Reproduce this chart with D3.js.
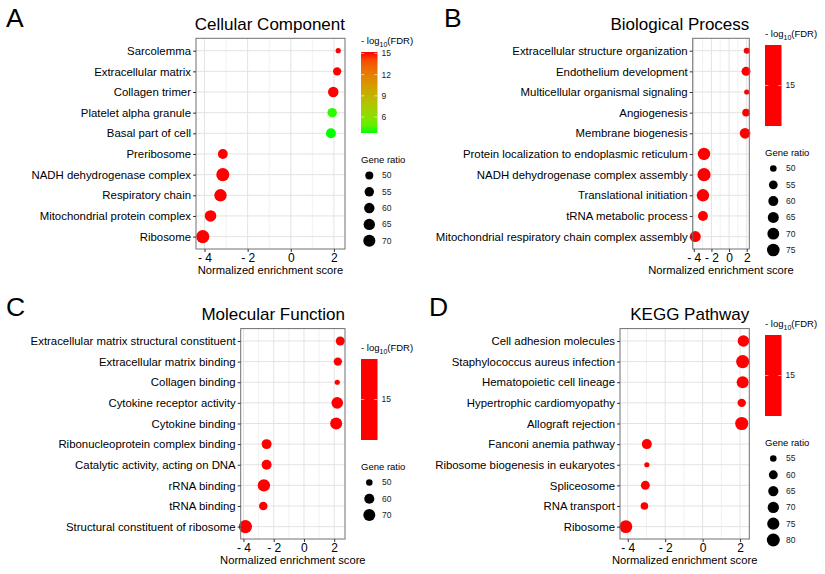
<!DOCTYPE html>
<html lang="en">
  <head>
    <meta charset="UTF-8" />
    <title>GSEA dot plots</title>
    <script src="https://d3js.org/d3.v7.min.js"></script>
    <style>
      body { margin: 0; background: #fff; }
      text { font-family: "Liberation Sans", Arial, sans-serif; }
    </style>
  </head>

  <body>
    <svg width="825" height="574"></svg>
    <script>
      // ---- data ----
      const ccTerms = ["Sarcolemma", "Extracellular matrix", "Collagen trimer", "Platelet alpha granule",
        "Basal part of cell", "Preribosome", "NADH dehydrogenase complex", "Respiratory chain",
        "Mitochondrial protein complex", "Ribosome"];
      const ccNES = [2.2, 2.15, 1.97, 1.92, 1.86, -3.15, -3.15, -3.26, -3.72, -4.08];
      const ccRatio = [46, 50.7, 60.2, 55.3, 57.1, 57, 77, 71.8, 66.2, 78];
      const ccFDR = [15.2, 15.2, 15.2, 4.0, 3.75, 15.2, 15.2, 15.2, 15.2, 15.2];
      const ccSizeBreaks = [50, 55, 60, 65, 70];
      const ccColorBreaks = [6, 9, 12, 15];

      const bpTerms = ["Extracellular structure organization", "Endothelium development",
        "Multicellular organismal signaling", "Angiogenesis", "Membrane biogenesis",
        "Protein localization to endoplasmic reticulum", "NADH dehydrogenase complex assembly",
        "Translational initiation", "tRNA metabolic process",
        "Mitochondrial respiratory chain complex assembly"];
      const bpNES = [2.0, 1.92, 2.0, 1.92, 1.81, -2.84, -2.84, -2.96, -2.96, -3.83];
      const bpRatio = [49.3, 55.9, 49, 51.7, 62.9, 73.6, 79.4, 73.6, 60, 65];
      const bpFDR = [15, 15, 15, 15, 15, 15, 15, 15, 15, 15];
      const bpSizeBreaks = [50, 55, 60, 65, 70, 75];
      const bpColorBreaks = [15];

      const mfTerms = ["Extracellular matrix structural constituent", "Extracellular matrix binding",
        "Collagen binding", "Cytokine receptor activity", "Cytokine binding",
        "Ribonucleoprotein complex binding", "Catalytic activity, acting on DNA", "rRNA binding",
        "tRNA binding", "Structural constituent of ribosome"];
      const mfNES = [2.4, 2.24, 2.2, 2.2, 2.13, -2.47, -2.47, -2.65, -2.69, -3.87];
      const mfRatio = [55.6, 53.7, 49.2, 67.7, 70, 59.5, 59.5, 72.6, 54.3, 78.1];
      const mfFDR = [15, 15, 15, 15, 15, 15, 15, 15, 15, 15];
      const mfSizeBreaks = [50, 60, 70];
      const mfColorBreaks = [15];

      const keggTerms = ["Cell adhesion molecules", "Staphylococcus aureus infection",
        "Hematopoietic cell lineage", "Hypertrophic cardiomyopathy", "Allograft rejection",
        "Fanconi anemia pathway", "Ribosome biogenesis in eukaryotes", "Spliceosome",
        "RNA transport", "Ribosome"];
      const keggNES = [2.18, 2.14, 2.14, 2.09, 2.09, -2.98, -2.98, -3.06, -3.11, -4.1];
      const keggRatio = [71.6, 81.4, 73.8, 58.6, 81, 64, 54.2, 60.3, 56.6, 78.7];
      const keggFDR = [15, 15, 15, 15, 15, 15, 15, 15, 15, 15];
      const keggSizeBreaks = [55, 60, 65, 70, 75, 80];
      const keggColorBreaks = [15];

      const xTicks = [-4, -2, 0, 2];
      const xMinor = [-3, -1, 1];

      // ---- layout ----
      const panels = [
        { letter: "A", title: "Cellular Component", terms: ccTerms, nes: ccNES, ratio: ccRatio, fdr: ccFDR,
          sizeBreaks: ccSizeBreaks, colorBreaks: ccColorBreaks,
          left: 196, right: 345, top: 38.3, bottom: 249, titleY: 30, letterX: 6, letterY: 27,
          legX: 361, barTop: 52 },
        { letter: "B", title: "Biological Process", terms: bpTerms, nes: bpNES, ratio: bpRatio, fdr: bpFDR,
          sizeBreaks: bpSizeBreaks, colorBreaks: bpColorBreaks,
          left: 692.7, right: 749.3, top: 38.3, bottom: 249, titleY: 30, letterX: 444, letterY: 27,
          legX: 765, barTop: 45 },
        { letter: "C", title: "Molecular Function", terms: mfTerms, nes: mfNES, ratio: mfRatio, fdr: mfFDR,
          sizeBreaks: mfSizeBreaks, colorBreaks: mfColorBreaks,
          left: 240.7, right: 345, top: 328.6, bottom: 539, titleY: 320, letterX: 6, letterY: 316,
          legX: 361, barTop: 359 },
        { letter: "D", title: "KEGG Pathway", terms: keggTerms, nes: keggNES, ratio: keggRatio, fdr: keggFDR,
          sizeBreaks: keggSizeBreaks, colorBreaks: keggColorBreaks,
          left: 620, right: 749.3, top: 328.6, bottom: 539, titleY: 320, letterX: 429, letterY: 316,
          legX: 765, barTop: 335 }
      ];

      const svg = d3.select("svg");
      svg.append("rect").attr("width", 825).attr("height", 574).attr("fill", "#fff");
      const defs = svg.append("defs");

      const LOW = "#00ff00", HIGH = "#ff0000";
      const R_MIN = 2.6, R_MAX = 6.6;
      const BAR_H = 81, BAR_W = 16.5;

      panels.forEach((p, pi) => {
        const g = svg.append("g");

        // scales
        const ext = d3.extent(p.nes);
        const pad = (ext[1] - ext[0]) * 0.05;
        const x = d3.scaleLinear().domain([ext[0] - pad, ext[1] + pad]).range([p.left, p.right]);
        const y = d3.scalePoint().domain(p.terms).range([p.top, p.bottom]).padding(0.6);

        const rExt = d3.extent(p.ratio);
        const rNorm = d3.scaleLinear().domain(rExt).range([0, 1]);
        const rLin = d3.scaleLinear().domain([0, 1]).range([R_MIN, R_MAX]);
        const radius = (v) => rLin(Math.sqrt(Math.max(0, rNorm(v))));

        const fExt = d3.extent(p.fdr);
        const color = fExt[0] === fExt[1]
          ? () => HIGH
          : d3.scaleLinear().domain(fExt).range([LOW, HIGH]).interpolate(d3.interpolateLab);

        // panel grid
        g.selectAll(".minor").data(xMinor).join("line")
          .attr("x1", (d) => x(d)).attr("x2", (d) => x(d))
          .attr("y1", p.top).attr("y2", p.bottom)
          .attr("stroke", "#ebebeb").attr("stroke-width", 0.7);
        g.selectAll(".major").data(xTicks).join("line")
          .attr("x1", (d) => x(d)).attr("x2", (d) => x(d))
          .attr("y1", p.top).attr("y2", p.bottom)
          .attr("stroke", "#e3e3e3").attr("stroke-width", 1);
        g.selectAll(".hgrid").data(p.terms).join("line")
          .attr("x1", p.left).attr("x2", p.right)
          .attr("y1", (d) => y(d)).attr("y2", (d) => y(d))
          .attr("stroke", "#e3e3e3").attr("stroke-width", 1);

        // points
        g.selectAll(".pt").data(p.terms).join("circle")
          .attr("cx", (d, i) => x(p.nes[i]))
          .attr("cy", (d) => y(d))
          .attr("r", (d, i) => radius(p.ratio[i]))
          .attr("fill", (d, i) => color(p.fdr[i]));

        // border
        g.append("rect")
          .attr("x", p.left).attr("y", p.top)
          .attr("width", p.right - p.left).attr("height", p.bottom - p.top)
          .attr("fill", "none").attr("stroke", "#707070").attr("stroke-width", 1);

        // axes
        const yAxis = g.append("g")
          .attr("transform", "translate(" + p.left + ",0)")
          .call(d3.axisLeft(y).tickSize(3).tickPadding(2));
        yAxis.select(".domain").remove();
        yAxis.selectAll("line").attr("stroke", "#333");
        yAxis.selectAll("text").attr("font-size", 11.4).attr("fill", "#000")
          .attr("font-family", "Liberation Sans, Arial, sans-serif");

        const xAxis = g.append("g")
          .attr("transform", "translate(0," + p.bottom + ")")
          .call(d3.axisBottom(x).tickValues(xTicks).tickSize(3).tickPadding(1)
            .tickFormat((d) => (d < 0 ? "- " + Math.abs(d) : d)));
        xAxis.select(".domain").remove();
        xAxis.selectAll("line").attr("stroke", "#333");
        xAxis.selectAll("text").attr("font-size", 12).attr("fill", "#000")
          .attr("font-family", "Liberation Sans, Arial, sans-serif");

        g.append("text")
          .attr("x", (p.left + p.right) / 2).attr("y", p.bottom + 25.3)
          .attr("text-anchor", "middle").attr("font-size", 11.2).attr("fill", "#000")
          .text("Normalized enrichment score");

        // title and letter
        g.append("text")
          .attr("x", p.right).attr("y", p.titleY)
          .attr("text-anchor", "end").attr("font-size", 17).attr("fill", "#000")
          .text(p.title);
        g.append("text")
          .attr("x", p.letterX).attr("y", p.letterY)
          .attr("font-size", 26.5).attr("fill", "#000")
          .text(p.letter);

        // colour bar legend
        const cbTitle = g.append("text")
          .attr("x", p.legX).attr("y", p.barTop - 8)
          .attr("font-size", 9.5).attr("fill", "#000");
        cbTitle.append("tspan").text("- log");
        cbTitle.append("tspan").attr("font-size", 7).attr("dy", 2.5).text("10");
        cbTitle.append("tspan").attr("dy", -2.5).text("(FDR)");

        const gradId = "grad" + pi;
        const grad = defs.append("linearGradient").attr("id", gradId)
          .attr("x1", 0).attr("y1", 1).attr("x2", 0).attr("y2", 0);
        d3.range(0, 1.0001, 0.1).forEach((t) => {
          grad.append("stop").attr("offset", t)
            .attr("stop-color", color(fExt[0] + t * (fExt[1] - fExt[0])));
        });
        g.append("rect")
          .attr("x", p.legX).attr("y", p.barTop)
          .attr("width", BAR_W).attr("height", BAR_H)
          .attr("fill", "url(#" + gradId + ")");

        const cb = fExt[0] === fExt[1]
          ? () => p.barTop + BAR_H / 2
          : d3.scaleLinear().domain(fExt).range([p.barTop + BAR_H, p.barTop]);
        p.colorBreaks.forEach((b) => {
          const yy = cb(b);
          [p.legX, p.legX + BAR_W - BAR_W / 5].forEach((x0) => {
            g.append("line")
              .attr("x1", x0).attr("x2", x0 + BAR_W / 5)
              .attr("y1", yy).attr("y2", yy)
              .attr("stroke", "#fff").attr("stroke-opacity", 0.6).attr("stroke-width", 1);
          });
          g.append("text")
            .attr("x", p.legX + BAR_W + 4).attr("y", yy).attr("dy", "0.35em")
            .attr("font-size", 8.5).attr("fill", "#222")
            .text(b);
        });

        // size legend
        const sTitleY = p.barTop + BAR_H + 29.5;
        g.append("text")
          .attr("x", p.legX).attr("y", sTitleY)
          .attr("font-size", 9.5).attr("fill", "#000")
          .text("Gene ratio");
        p.sizeBreaks.forEach((b, i) => {
          const yy = sTitleY + 13 + i * 16.3;
          g.append("circle")
            .attr("cx", p.legX + 8.3).attr("cy", yy)
            .attr("r", radius(b)).attr("fill", "#000");
          g.append("text")
            .attr("x", p.legX + 21).attr("y", yy).attr("dy", "0.35em")
            .attr("font-size", 8.5).attr("fill", "#222")
            .text(b);
        });
      });
    </script>
  </body>
</html>
